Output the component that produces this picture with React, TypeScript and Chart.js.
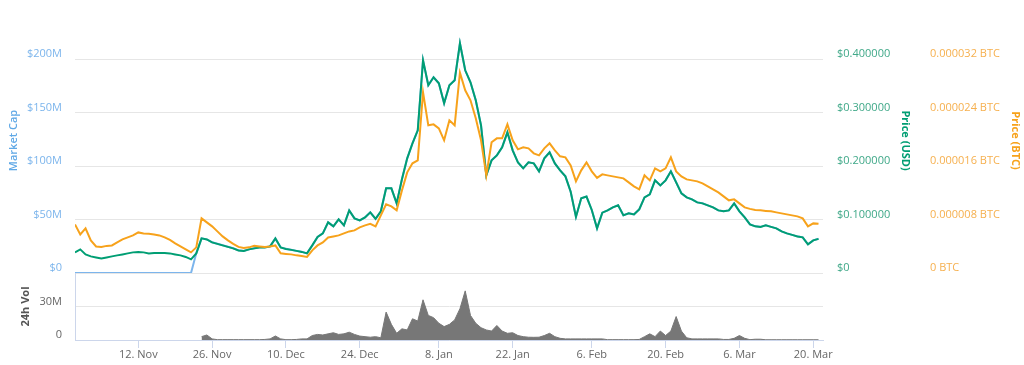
import React, { useEffect, useRef } from 'react';
import { Chart, registerables } from 'chart.js';

Chart.register(...registerables);
Chart.defaults.font.family = "'Open Sans', 'DejaVu Sans', sans-serif";
Chart.defaults.font.size = 11;

// x = days since 31 Oct 2017
const X_MIN = 0;
const X_MAX = 141.85;
const X_TICK_DAYS = [12, 26, 40, 54, 69, 83, 98, 112, 126, 140];
const X_TICK_LABELS = ['12. Nov', '26. Nov', '10. Dec', '24. Dec', '8. Jan', '22. Jan', '6. Feb', '20. Feb', '6. Mar', '20. Mar'];

const MCAP_TICKS_M = [0, 50, 100, 150, 200];
const USD_TICKS = [0, 0.1, 0.2, 0.3, 0.4];
const BTC_TICKS_SAT = [0, 800, 1600, 2400, 3200];
const VOL_TICKS_M = [0, 30];

// Price (USD), one value per day
const USD_PRICE = [
  0.0386, 0.0442, 0.0348, 0.0311, 0.0292, 0.0273, 0.0292, 0.0311, 0.0330, 0.0348,
  0.0367, 0.0386, 0.0395, 0.0386, 0.0367, 0.0376, 0.0376, 0.0376, 0.0367, 0.0348,
  0.0330, 0.0301, 0.0255, 0.0367, 0.0648, 0.0629, 0.0573, 0.0545, 0.0517, 0.0489,
  0.0461, 0.0423, 0.0414, 0.0442, 0.0461, 0.0479, 0.0479, 0.0498, 0.0648, 0.0479,
  0.0451, 0.0433, 0.0414, 0.0395, 0.0367, 0.0517, 0.0676, 0.0742, 0.0948, 0.0873,
  0.1004, 0.0891, 0.1172, 0.1022, 0.0985, 0.1041, 0.1135, 0.1013, 0.1154, 0.1584,
  0.1584, 0.1303, 0.1753, 0.2146, 0.2427, 0.2670, 0.3980, 0.3513, 0.3663, 0.3551,
  0.3176, 0.3513, 0.3607, 0.4300, 0.3794, 0.3569, 0.3232, 0.2764, 0.1828, 0.2109,
  0.2202, 0.2352, 0.2633, 0.2296, 0.2071, 0.1959, 0.2071, 0.2052, 0.1903, 0.2146,
  0.2258, 0.2052, 0.1921, 0.1809, 0.1520, 0.1050, 0.1400, 0.1430, 0.1180, 0.0835,
  0.1130, 0.1172, 0.1228, 0.1266, 0.1079, 0.1116, 0.1097, 0.1191, 0.1416, 0.1472,
  0.1734, 0.1640, 0.1734, 0.1903, 0.1697, 0.1491, 0.1416, 0.1378, 0.1322, 0.1303,
  0.1266, 0.1228, 0.1172, 0.1154, 0.1172, 0.1303, 0.1154, 0.1041, 0.0910, 0.0873,
  0.0863, 0.0891, 0.0863, 0.0835, 0.0779, 0.0742, 0.0713, 0.0685, 0.0667, 0.0536,
  0.0610, 0.0639,
];

// Price (BTC) in satoshi, one value per day
const BTC_PRICE_SAT = [
  728, 578, 668, 488, 398, 391, 406, 413, 458, 503,
  533, 563, 608, 593, 586, 578, 563, 533, 496, 443,
  398, 354, 309, 384, 818, 758, 698, 623, 548, 488,
  436, 391, 376, 384, 406, 398, 391, 398, 413, 294,
  286, 279, 264, 256, 241, 339, 413, 458, 533, 548,
  563, 593, 623, 638, 683, 713, 736, 698, 863, 1028,
  998, 938, 1237, 1507, 1642, 1687, 2706, 2211, 2226, 2166,
  1987, 2286, 2211, 3000, 2736, 2586, 2316, 1987, 1462, 1957,
  2016, 2016, 2226, 1987, 1852, 1882, 1867, 1792, 1762, 1867,
  1942, 1837, 1747, 1732, 1612, 1372, 1537, 1657, 1522, 1425,
  1477, 1462, 1447, 1432, 1417, 1357, 1297, 1252, 1462, 1387,
  1567, 1522, 1567, 1732, 1522, 1447, 1402, 1387, 1372, 1342,
  1297, 1252, 1207, 1148, 1088, 1103, 1043, 983, 960, 945,
  938, 930, 923, 908, 893, 878, 863, 848, 818, 698,
  743, 736,
];

// Market cap in millions of USD, one value per day
const MARKET_CAP_M = [
  0, 0, 0, 0, 0, 0, 0, 0, 0, 0,
  0, 0, 0, 0, 0, 0, 0, 0, 0, 0,
  0, 0, 0, 18.4, 32.4, 31.5, 28.7, 27.3, 25.9, 24.5,
  23.1, 21.2, 20.7, 22.1, 23.1, 24.0, 24.0, 24.9, 32.4, 24.0,
  22.6, 21.7, 20.7, 19.8, 18.4, 25.9, 33.8, 37.1, 47.4, 43.7,
  50.2, 44.6, 58.6, 51.1, 49.3, 52.1, 56.8, 50.7, 57.7, 79.2,
  79.2, 65.2, 87.7, 107.3, 121.4, 133.5, 199.0, 175.7, 183.2, 177.6,
  158.8, 175.7, 180.4, 215.0, 189.7, 178.5, 161.6, 138.2, 91.4, 105.5,
  110.1, 117.6, 131.7, 114.8, 103.6, 98.0, 103.6, 102.6, 95.2, 107.3,
  112.9, 102.6, 96.1, 90.5, 76.0, 52.5, 70.0, 71.5, 59.0, 41.8,
  56.5, 58.6, 61.4, 63.3, 54.0, 55.8, 54.9, 59.6, 70.8, 73.6,
  86.7, 82.0, 86.7, 95.2, 84.9, 74.6, 70.8, 68.9, 66.1, 65.2,
  63.3, 61.4, 58.6, 57.7, 58.6, 65.2, 57.7, 52.1, 45.5, 43.7,
  43.2, 44.6, 43.2, 41.8, 39.0, 37.1, 35.7, 34.3, 33.4, 26.8,
  30.5, 32.0,
];

// 24h volume in millions of USD, one value per day
const VOLUME_M = [
  null, null, null, null, null, null, null, null, null, null,
  null, null, null, null, null, null, null, null, null, null,
  null, null, null, null, 3, 4.5, 1, 0.3, 0.3, 0.3,
  0.3, 0.3, 0.3, 0.3, 0.3, 0.3, 0.5, 1, 3.6, 1,
  0.3, 0.3, 0.5, 1, 1, 4, 5, 4.5, 5.5, 6.5,
  5, 5.5, 7, 5, 3.5, 3, 2.5, 3, 2, 25,
  14, 6, 10, 9, 19, 17, 36, 22, 20, 15,
  12, 14, 18, 28, 44, 22, 15, 11, 9, 8,
  13, 8, 6, 6.5, 4, 3, 2.5, 2.4, 2.5, 4,
  6, 3, 1.5, 1, 1, 1, 1, 1, 1, 1,
  1, 0.3, 0.3, 0.3, 0.3, 0.3, 0.3, 0.5, 3, 5.5,
  3, 8, 4, 8, 21, 8, 2, 1, 1, 1,
  1, 1, 1, 0.5, 0.5, 1.5, 4, 1.5, 0.3, 0.7,
  0.7, 0.2, 0.2, 0.2, 0.2, 0.2, 0.2, 0.2, 0.2, 0.2,
  0.2, 0.2,
];

const MCAP_COLOR = '#7cb5ec';
const USD_COLOR = '#009e73';
const BTC_COLOR = '#f7a21b';
const VOL_COLOR = '#777777';
const GRID = '#e6e6e6';
const AXIS = '#ccd6eb';

const pts = (arr: (number | null)[]) => arr.map((v, i) => ({ x: i, y: v }));
const setTicks = (vals: number[]) => (axis: any) => {
  axis.ticks = vals.map((v) => ({ value: v }));
};
const fixWidth = (w: number) => (axis: any) => {
  axis.width = w;
  axis.paddingTop = 0;
  axis.paddingBottom = 0;
};

export default function App() {
  const topRef = useRef<HTMLCanvasElement | null>(null);
  const botRef = useRef<HTMLCanvasElement | null>(null);

  useEffect(() => {
    const top = new Chart(topRef.current as HTMLCanvasElement, {
      type: 'line',
      data: {
        datasets: [
          {
            label: 'Price (BTC)',
            data: pts(BTC_PRICE_SAT),
            yAxisID: 'btc',
            borderColor: BTC_COLOR,
            borderWidth: 2,
            pointRadius: 0,
            tension: 0,
          },
          {
            label: 'Price (USD)',
            data: pts(USD_PRICE),
            yAxisID: 'usd',
            borderColor: USD_COLOR,
            borderWidth: 2,
            pointRadius: 0,
            tension: 0,
          },
          {
            label: 'Market Cap',
            data: pts(MARKET_CAP_M),
            yAxisID: 'mcap',
            borderColor: MCAP_COLOR,
            borderWidth: 2,
            pointRadius: 0,
            tension: 0,
          },
        ],
      },
      options: {
        animation: false,
        responsive: false,
        events: [],
        layout: { padding: { top: 8, bottom: 7, left: 0, right: 0 } },
        plugins: { legend: { display: false }, tooltip: { enabled: false } },
        scales: {
          x: { type: 'linear', min: X_MIN, max: X_MAX, display: false },
          mcap: {
            type: 'linear',
            position: 'left',
            min: 0,
            max: 248,
            afterBuildTicks: setTicks(MCAP_TICKS_M),
            afterFit: fixWidth(75),
            grid: { color: GRID, drawTicks: false },
            border: { display: false },
            ticks: {
              color: MCAP_COLOR,
              padding: 13,
              labelOffset: -5,
              callback: (v: any) => (v === 0 ? '$0' : '$' + v + 'M'),
            },
            title: {
              display: true,
              text: 'Market Cap',
              color: '#5fa8e6',
              font: { size: 11, weight: '600' },
              padding: { top: 7, bottom: 0 },
            },
          },
          usd: {
            type: 'linear',
            position: 'right',
            min: 0,
            max: 0.496,
            afterBuildTicks: setTicks(USD_TICKS),
            afterFit: fixWidth(89),
            grid: { display: false, drawTicks: false },
            border: { display: false },
            ticks: {
              color: '#3fa888',
              padding: 14,
              labelOffset: -5,
              callback: (v: any) => (v === 0 ? '$0' : '$' + Number(v).toFixed(6)),
            },
            title: {
              display: true,
              text: 'Price (USD)',
              color: USD_COLOR,
              font: { size: 11, weight: 'bold' },
              padding: { top: 0, bottom: 0 },
            },
          },
          btc: {
            type: 'linear',
            position: 'right',
            min: 0,
            max: 3968,
            afterBuildTicks: setTicks(BTC_TICKS_SAT),
            afterFit: fixWidth(112),
            grid: { display: false, drawTicks: false },
            border: { display: false },
            ticks: {
              color: '#f6b04f',
              padding: 18,
              labelOffset: -5,
              callback: (v: any) => (v === 0 ? '0 BTC' : (Number(v) / 1e8).toFixed(6) + ' BTC'),
            },
            title: {
              display: true,
              text: 'Price (BTC)',
              color: BTC_COLOR,
              font: { size: 11, weight: 'bold' },
              padding: { top: 2, bottom: 0 },
            },
          },
        },
      },
    } as any);

    const bot = new Chart(botRef.current as HTMLCanvasElement, {
      type: 'line',
      data: {
        datasets: [
          {
            label: '24h Vol',
            data: pts(VOLUME_M),
            yAxisID: 'vol',
            borderColor: VOL_COLOR,
            backgroundColor: VOL_COLOR,
            borderWidth: 1,
            fill: 'origin',
            pointRadius: 0,
            tension: 0,
            spanGaps: false,
          },
        ],
      },
      options: {
        animation: false,
        responsive: false,
        events: [],
        layout: { padding: { top: 7, bottom: 0, left: 0, right: 201 } },
        plugins: { legend: { display: false }, tooltip: { enabled: false } },
        scales: {
          x: {
            type: 'linear',
            min: X_MIN,
            max: X_MAX,
            afterBuildTicks: setTicks(X_TICK_DAYS),
            afterFit: (axis: any) => {
              axis.height = 25;
              axis.paddingLeft = 0;
              axis.paddingRight = 0;
            },
            grid: { drawOnChartArea: false, drawTicks: true, tickLength: 8, color: AXIS },
            border: { display: true, color: AXIS },
            ticks: {
              color: '#666666',
              padding: 0,
              autoSkip: false,
              maxRotation: 0,
              callback: (v: any) => {
                const i = X_TICK_DAYS.indexOf(Number(v));
                return i >= 0 ? X_TICK_LABELS[i] : '';
              },
            },
          },
          vol: {
            type: 'linear',
            position: 'left',
            min: 0,
            max: 60,
            afterBuildTicks: setTicks(VOL_TICKS_M),
            afterFit: fixWidth(75),
            grid: { color: GRID, drawTicks: false },
            border: { display: true, color: AXIS },
            ticks: {
              color: '#666666',
              padding: 13,
              labelOffset: -5,
              callback: (v: any) => (v === 0 ? '0' : v + 'M'),
            },
            title: {
              display: true,
              text: '24h Vol',
              color: '#555555',
              font: { size: 11, weight: 'bold' },
              padding: { top: 19, bottom: 0 },
            },
          },
        },
      },
    } as any);

    return () => {
      top.destroy();
      bot.destroy();
    };
  }, []);

  return (
    <div style={{ position: 'absolute', left: 0, top: 0, width: 1024, height: 365, background: '#ffffff' }}>
      <div style={{ position: 'absolute', left: 0, top: 0 }}>
        <canvas ref={topRef} width={1024} height={280} style={{ display: 'block' }} />
      </div>
      <div style={{ position: 'absolute', left: 0, top: 266 }}>
        <canvas ref={botRef} width={1024} height={99} style={{ display: 'block' }} />
      </div>
    </div>
  );
}
